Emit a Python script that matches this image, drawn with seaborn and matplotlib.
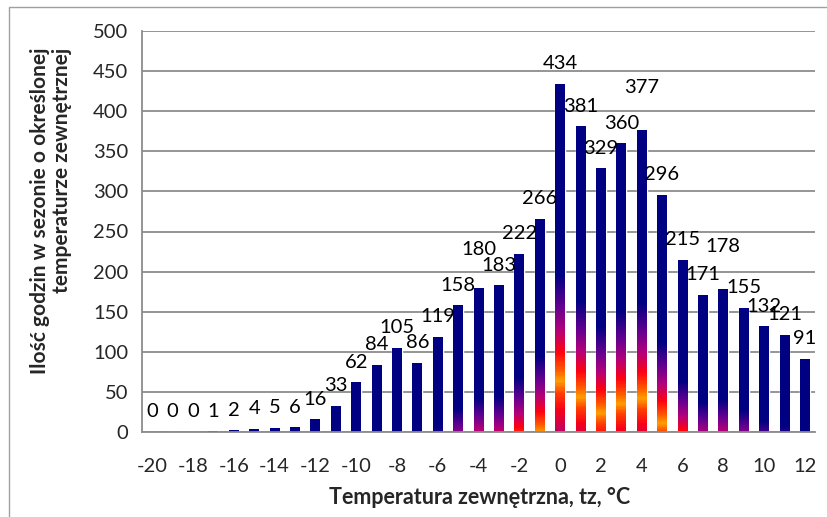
#!/usr/bin/env python3

import matplotlib

matplotlib.use("Agg")
import matplotlib.pyplot as plt
import numpy as np
import pandas as pd
import seaborn as sns
from matplotlib.colors import LinearSegmentedColormap
from matplotlib.patches import Rectangle

# Outdoor temperature bins (deg C) and hours of the heating season in each bin
temperatures = [-20, -19, -18, -17, -16, -15, -14, -13, -12, -11, -10, -9, -8,
                -7, -6, -5, -4, -3, -2, -1, 0, 1, 2, 3, 4, 5, 6, 7, 8, 9, 10,
                11, 12]
hours = [0, 0, 0, 1, 2, 4, 5, 6, 16, 33, 62, 84, 105, 86, 119, 158, 180, 183,
         222, 266, 434, 381, 329, 360, 377, 296, 215, 171, 178, 155, 132, 121,
         91]
tick_temps = [-20, -18, -16, -14, -12, -10, -8, -6, -4, -2, 0, 2, 4, 6, 8, 10, 12]

# A few value labels were pushed up in the original so they don't collide
label_bump = {-4: 13, 4: 16, 8: 16}

NAVY = "#000082"
GRID = "#8c8c8c"

# "early sunset" like fill, u = 0 at the bar top, grows downwards
sunset = LinearSegmentedColormap.from_list(
    "sunset",
    [
        (0.0, NAVY),
        (0.80 / 1.6, NAVY),
        (0.93 / 1.6, "#640090"),
        (1.03 / 1.6, "#b4007a"),
        (1.12 / 1.6, "#ff0010"),
        (1.20 / 1.6, "#ff6000"),
        (1.24 / 1.6, "#ffa000"),
        (1.29 / 1.6, "#ff4000"),
        (1.36 / 1.6, "#f80018"),
        (1.45 / 1.6, "#c00060"),
        (1.0, "#800090"),
    ],
)


def gradient_bars(ax, cmap):
    """
    Paint each bar with the gradient, clipped to the bar rectangle.
    """
    for patch in list(ax.patches):
        h = patch.get_height()
        if h <= 0:
            continue
        x0 = patch.get_x()
        w = patch.get_width()
        y = np.linspace(0, h, 300)
        u = (h - y) / (0.5 * h + 82.5)
        img = cmap(np.clip(u / 1.6, 0, 1))[:, None, :]
        im = ax.imshow(
            img,
            extent=[x0, x0 + w, 0, h],
            origin="lower",
            aspect="auto",
            interpolation="bilinear",
            zorder=patch.get_zorder() + 0.1,
        )
        im.set_clip_path(patch)


def main():
    sns.set_style("white")
    plt.rcParams["font.family"] = ["Lato", "DejaVu Sans"]

    df = pd.DataFrame({"temp": temperatures, "hours": hours})

    fig = plt.figure(figsize=(8.27, 5.17), dpi=100)
    ax = fig.add_axes([142 / 827, 85 / 517, 673 / 827, 401 / 517])

    sns.barplot(
        data=df,
        x="temp",
        y="hours",
        order=temperatures,
        color=NAVY,
        saturation=1,
        width=0.48,
        errorbar=None,
        ax=ax,
    )
    gradient_bars(ax, sunset)

    # Value labels above the bars
    for patch, value, t in zip(ax.patches, hours, temperatures):
        ax.annotate(
            str(value),
            (patch.get_x() + patch.get_width() / 2, value),
            xytext=(0, 10.5 + label_bump.get(t, 0)),
            textcoords="offset points",
            ha="center",
            va="baseline",
            fontsize=14.5,
            color="black",
        )

    ax.set_xlim(-0.5, len(temperatures) - 0.5)
    ax.set_ylim(0, 500)
    ax.set_yticks(range(0, 501, 50))
    ax.yaxis.grid(True, color=GRID, linewidth=1.3)
    ax.set_axisbelow(True)

    pos = [temperatures.index(t) for t in tick_temps]
    ax.set_xticks(pos)
    ax.set_xticklabels([str(t) for t in tick_temps])
    ax.set_xticks(np.arange(-0.5, len(temperatures), 1), minor=True)
    ax.tick_params(axis="x", which="major", length=0, pad=19, labelsize=14.5)
    ax.tick_params(axis="x", which="minor", length=5, width=1.3, color=GRID)
    ax.tick_params(axis="y", length=4, width=1.3, color=GRID, pad=6,
                   labelsize=14.5)

    for side in ["top", "right"]:
        ax.spines[side].set_visible(False)
    for side in ["left", "bottom"]:
        ax.spines[side].set_color(GRID)
        ax.spines[side].set_linewidth(1.3)

    ax.set_xlabel("")
    ax.set_ylabel("")
    fig.text(480 / 827, 1 - 497 / 517, "Temperatura zewnętrzna, tz, °C",
             ha="center", va="center", fontsize=15.5, fontweight="bold")
    fig.text(40 / 827, 1 - 211 / 517, "Ilość godzin w sezonie o określonej",
             ha="center", va="center", rotation=90, fontsize=15,
             fontweight="bold")
    fig.text(62 / 827, 1 - 170 / 517, "temperaturze zewnętrznej",
             ha="center", va="center", rotation=90, fontsize=15,
             fontweight="bold")

    # Chart area border
    fig.patches.append(
        Rectangle((9 / 827, -0.1), 1.2, 1 - 7 / 517 + 0.1,
                  transform=fig.transFigure, fill=False,
                  edgecolor="#a0a0a0", linewidth=1.0)
    )

    fig.savefig("out.png", dpi=100)


if __name__ == "__main__":
    main()
